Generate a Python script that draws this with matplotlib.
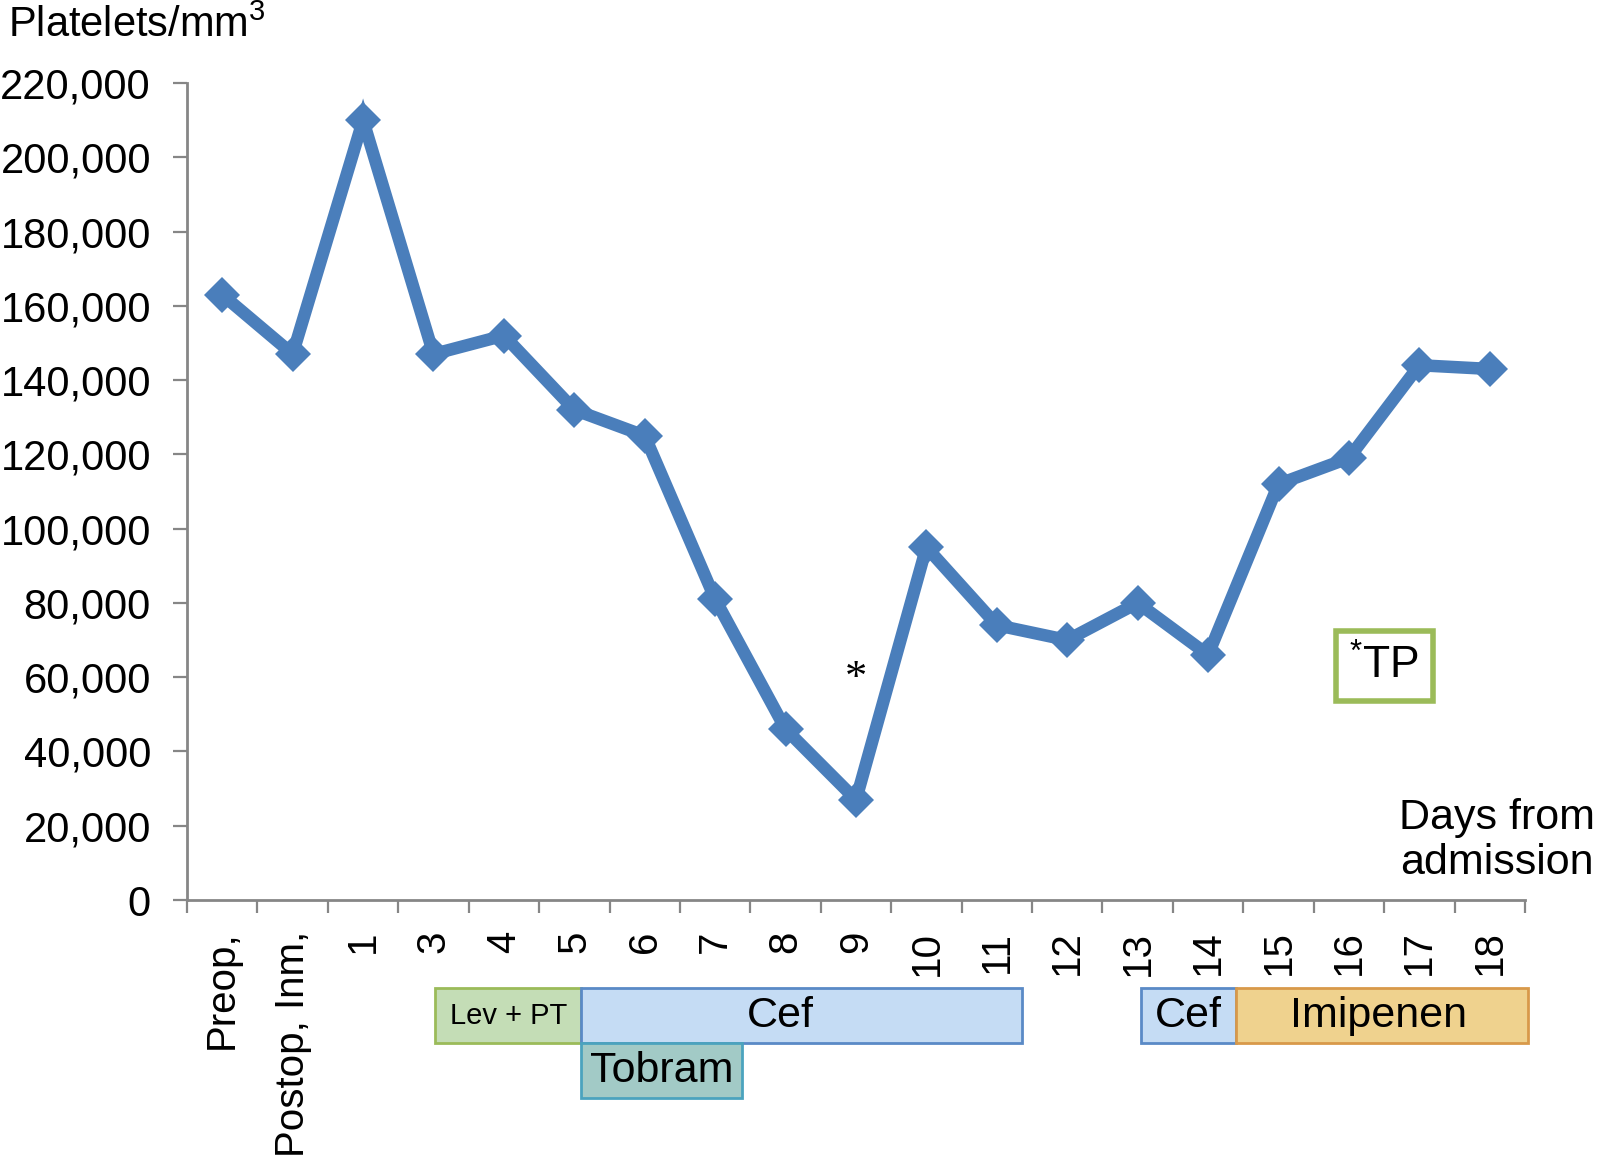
import matplotlib
matplotlib.use("Agg")
import matplotlib.pyplot as plt
from matplotlib.patches import Rectangle
from matplotlib.ticker import FuncFormatter

plt.rcParams['font.family'] = ['Liberation Sans', 'DejaVu Sans']
plt.rcParams['mathtext.fontset'] = 'custom'
plt.rcParams['mathtext.rm'] = 'Liberation Sans'

# data
days = ['Preop,', 'Postop, Inm,', '1', '3', '4', '5', '6', '7', '8', '9',
        '10', '11', '12', '13', '14', '15', '16', '17', '18']
platelets = [163000, 147000, 210000, 147000, 152000, 132000, 125000, 81000,
             46000, 27000, 95000, 74000, 70000, 80000, 66000, 112000,
             119000, 144000, 143000]

# treatments drawn under the axis (start/end in category units, row 0 or 1)
drug_names = ['Lev + PT', 'Cef', 'Tobram', 'Cef', 'Imipenen']
drug_start = [3.02, 5.1, 5.1, 13.05, 14.39]
drug_end = [5.1, 11.36, 7.38, 14.39, 18.55]
drug_row = [0, 0, 1, 0, 0]
drug_fill = ['#C4DDB6', '#C5DCF4', '#A2CAC6', '#C5DCF4', '#EFD28E']
drug_edge = ['#9BBB59', '#5A8AC6', '#4BA3BE', '#5A8AC6', '#D8994A']
drug_fsize = [10.5, 15.5, 15.5, 15.5, 15.5]
label_shift = [0, -0.3, 0, 0, -0.05]

transfusion_day = 9   # marked with *

fig = plt.figure(figsize=(8, 5.82), dpi=200)
ax = fig.add_axes([0.1169, 0.2268, 0.8362, 0.7019])

x = list(range(len(days)))
ax.plot(x, platelets, color='#4A7EBB', lw=4.5, marker='D', ms=9,
        mew=0, solid_joinstyle='miter')

ax.set_xlim(-0.5, len(days) - 0.5)
ax.set_ylim(0, 220000)
ax.set_yticks(range(0, 220001, 20000))
ax.yaxis.set_major_formatter(FuncFormatter(lambda v, p: f'{int(v):,}'))

ax.set_xticks(x)
ax.set_xticklabels(days, rotation=90, fontsize=14.5)
ax.set_xticks([i - 0.5 for i in range(len(days) + 1)], minor=True)
ax.tick_params(axis='x', which='major', length=0, pad=11)
ax.tick_params(axis='x', which='minor', length=4.7, width=0.8, color='#868686', direction='out')
ax.tick_params(axis='y', length=5, width=0.8, color='#868686', labelsize=15, pad=8)

for s in ['top', 'right']:
    ax.spines[s].set_visible(False)
for s in ['left', 'bottom']:
    ax.spines[s].set_color('#868686')
    ax.spines[s].set_linewidth(1.0)

fig.text(0.005, 0.968, r'$\mathregular{Platelets/mm^3}$', fontsize=15,
         ha='left', va='baseline')

# transfusion marker
ax.text(transfusion_day, 59500, '*', fontsize=16, family='Liberation Serif',
        ha='center', va='center')

# legend-like box
ax.text(16.5, 63000, r'$\mathregular{^{*}TP}$', fontsize=16, ha='center', va='center',
        bbox=dict(boxstyle='square,pad=0.3', fc='white', ec='#9BBB59', lw=2))

ax.text(18.1, 16000, 'Days from\nadmission', fontsize=15.5, ha='center', va='center',
        linespacing=1.15)

# treatment boxes below the x axis
row_h = 14800
row_top = -23800
for name, s, e, r, fc, ec, fs, sh in zip(drug_names, drug_start, drug_end, drug_row,
                                         drug_fill, drug_edge, drug_fsize, label_shift):
    y0 = row_top - (r + 1) * row_h
    rect = Rectangle((s, y0), e - s, row_h, facecolor=fc, edgecolor=ec,
                     lw=1.0, clip_on=False)
    ax.add_patch(rect)
    ax.text((s + e) / 2 + sh, y0 + row_h / 2, name, fontsize=fs, ha='center',
            va='center', clip_on=False)

fig.savefig('out.png', dpi=200)
